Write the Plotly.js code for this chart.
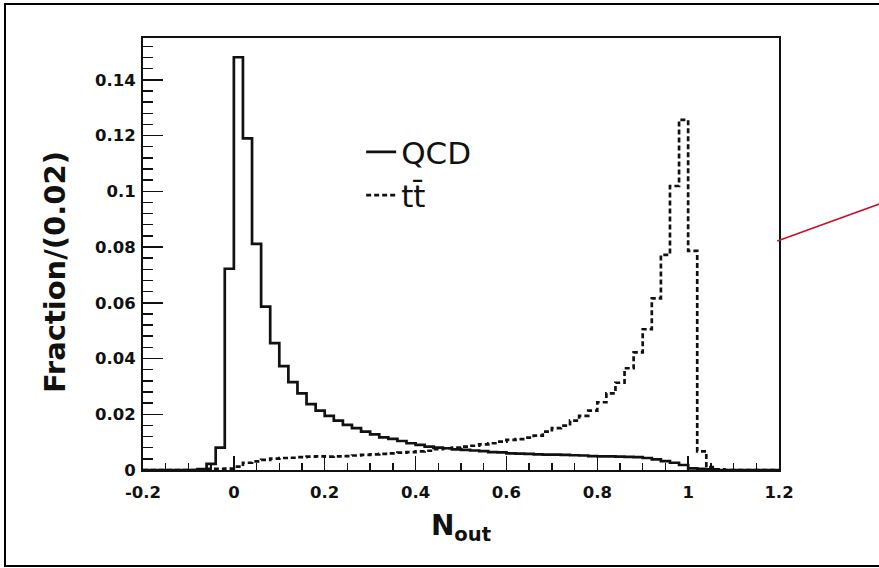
<!DOCTYPE html>
<html>
<head>
<meta charset="utf-8">
<script src="https://cdn.plot.ly/plotly-3.0.1.min.js"></script>
<style>
  html, body { margin:0; padding:0; background:#fff; overflow:hidden; width:879px; height:568px; }
  #frame { position:absolute; left:4px; top:3px; width:1000px; height:560px; border:2px solid #000; }
  #chart { position:absolute; left:0; top:0; width:879px; height:568px; }
</style>
</head>
<body>
<div id="frame"></div>
<div id="chart"></div>
<script>
// Bin edges (width 0.02) from -0.2 to 1.2
const binEdges = [-0.20,-0.18,-0.16,-0.14,-0.12,-0.10,-0.08,-0.06,-0.04,-0.02,
  0.00,0.02,0.04,0.06,0.08,0.10,0.12,0.14,0.16,0.18,
  0.20,0.22,0.24,0.26,0.28,0.30,0.32,0.34,0.36,0.38,
  0.40,0.42,0.44,0.46,0.48,0.50,0.52,0.54,0.56,0.58,
  0.60,0.62,0.64,0.66,0.68,0.70,0.72,0.74,0.76,0.78,
  0.80,0.82,0.84,0.86,0.88,0.90,0.92,0.94,0.96,0.98,
  1.00,1.02,1.04,1.06,1.08,1.10,1.12,1.14,1.16,1.18,1.20];

// Fraction per bin, QCD
const qcdValues = [0,0,0,0,0,0,0.0003,0.0022,0.0080,0.0722,
  0.1481,0.1190,0.0811,0.0586,0.0455,0.0373,0.0315,0.0275,0.0236,0.0213,
  0.0194,0.0177,0.0162,0.0150,0.0138,0.0128,0.0117,0.0112,0.0104,0.0096,
  0.0090,0.0084,0.0080,0.0078,0.0074,0.0072,0.0070,0.0068,0.0064,0.0063,
  0.0060,0.0059,0.0058,0.0056,0.0055,0.0055,0.0054,0.0053,0.0052,0.0050,
  0.0049,0.0049,0.0048,0.0047,0.0046,0.0043,0.0038,0.0032,0.0026,0.0018,
  0.0006,0.0004,0.0002,0,0,0,0,0,0,0];

// Fraction per bin, ttbar
const ttValues = [0,0,0,0,0,0,0,0.0004,0.0004,0.0005,
  0.0012,0.0026,0.0031,0.0036,0.0041,0.0043,0.0044,0.0046,0.0048,0.0049,
  0.0048,0.0049,0.0050,0.0052,0.0054,0.0056,0.0058,0.0060,0.0062,0.0064,
  0.0067,0.0069,0.0075,0.0078,0.0080,0.0084,0.0087,0.0092,0.0096,0.0102,
  0.0108,0.0111,0.0116,0.0123,0.0138,0.0150,0.0159,0.0177,0.0194,0.0213,
  0.0243,0.0275,0.0313,0.0365,0.0422,0.0505,0.0616,0.0772,0.1019,0.1256,
  0.0786,0.0067,0.0010,0.0002,0,0,0,0,0,0];

const seriesNames = ['QCD', 'tt\u0304'];

const xTickVals = [-0.2,0,0.2,0.4,0.6,0.8,1,1.2];
const xTickText = ["-0.2","0","0.2","0.4","0.6","0.8","1","1.2"];
const yTickVals = [0,0.02,0.04,0.06,0.08,0.1,0.12,0.14];
const yTickText = ["0","0.02","0.04","0.06","0.08","0.1","0.12","0.14"];

function stepY(vals){ return vals.concat([vals[vals.length-1]]); }

const traces = [
  {
    x: binEdges, y: stepY(qcdValues), type:'scatter', mode:'lines', name:seriesNames[0],
    line:{shape:'hv', color:'#111', width:2.7}
  },
  {
    x: binEdges, y: stepY(ttValues), type:'scatter', mode:'lines', name:seriesNames[1],
    line:{shape:'hv', color:'#111', width:2.7, dash:'5px,3px'}
  }
];

const tickFont = {family:'DejaVu Sans', size:16.5, color:'#111', weight:'bold'};

const layout = {
  width:879, height:568,
  margin:{l:143, r:100, t:38, b:98, pad:0},
  paper_bgcolor:'rgba(0,0,0,0)', plot_bgcolor:'#fff',
  showlegend:true,
  legend:{x:0.343, y:0.798, xanchor:'left', yanchor:'top', bgcolor:'rgba(0,0,0,0)', borderwidth:0,
    font:{family:'DejaVu Sans', size:31, color:'#111'}, itemwidth:30},
  xaxis:{
    range:[-0.2,1.2], tickmode:'array', tickvals:xTickVals, ticktext:xTickText,
    ticks:'inside', ticklen:14, tickwidth:1.5, tickcolor:'#111',
    minor:{ticks:'inside', ticklen:7, tickwidth:1.5, tickcolor:'#111', tickmode:'linear', tick0:-0.2, dtick:0.05, showgrid:false},
    showgrid:false, zeroline:false, showline:true, linecolor:'#111', linewidth:2, mirror:true,
    tickfont:tickFont, ticklabelstandoff:6,
    title:{text:'N<sub>out</sub>', font:{family:'DejaVu Sans', size:28, color:'#111', weight:'bold'}, standoff:15},
    automargin:false
  },
  yaxis:{
    range:[0,0.155], tickmode:'array', tickvals:yTickVals, ticktext:yTickText,
    ticks:'inside', ticklen:20, tickwidth:1.5, tickcolor:'#111',
    minor:{ticks:'inside', ticklen:10, tickwidth:1.5, tickcolor:'#111', tickmode:'linear', tick0:0, dtick:0.004, showgrid:false},
    showgrid:false, zeroline:false, showline:true, linecolor:'#111', linewidth:2, mirror:true,
    tickfont:tickFont, ticklabelstandoff:2,
    automargin:false
  },
  annotations:[
    {text:'Fraction/(0.02)', xref:'paper', yref:'paper', x:-0.1384, y:0.458, textangle:-90,
     showarrow:false, xanchor:'center', yanchor:'middle',
     font:{family:'DejaVu Sans', size:29, color:'#111', weight:'bold'}}
  ],
  shapes:[
    {type:'line', xref:'paper', yref:'paper', x0:0.9973, y0:0.530, x1:1.19, y1:0.633,
     line:{color:'#c8102e', width:1.5}}
  ]
};

Plotly.newPlot('chart', traces, layout, {staticPlot:true, displayModeBar:false});
</script>
</body>
</html>
